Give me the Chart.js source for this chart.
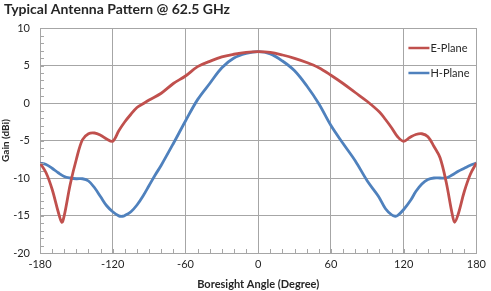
<!DOCTYPE html>
<html>
<head>
<meta charset="utf-8">
<script src="https://cdn.jsdelivr.net/npm/chart.js@4.4.1/dist/chart.umd.min.js"></script>
<style>
  html, body { margin: 0; padding: 0; background: #ffffff; }
  #wrap { width: 491px; height: 291px; position: relative; }
</style>
</head>
<body>
<div id="wrap"><canvas id="c" width="491" height="291"></canvas></div>
<script>
// ---- Data ----
const chartTitle = "Typical Antenna Pattern @ 62.5 GHz";
const xTitle = "Boresight Angle (Degree)";
const yTitle = "Gain (dBi)";
const seriesNames = ["E-Plane", "H-Plane"];

const ePlaneAngles = [-180,-175,-170,-165,-162,-160,-155,-150,-145,-140,-135,-130,-125,-120,-115,-110,-105,-100,-95,-90,-80,-70,-60,-50,-40,-30,-20,-10,0,
  10,20,30,40,50,60,70,80,90,100,105,110,115,120,125,130,135,140,145,150,155,160,162,165,170,175,180];
const ePlaneGain = [-8.0,-9.3,-11.5,-14.5,-15.9,-15.0,-10.8,-7.5,-4.9,-4.1,-4.0,-4.3,-4.8,-5.1,-3.7,-2.5,-1.5,-0.6,-0.1,0.4,1.3,2.6,3.6,4.85,5.55,6.15,6.5,6.75,6.85,
  6.75,6.4,5.95,5.4,4.7,3.7,2.6,1.4,0.2,-1.2,-2.2,-3.3,-4.5,-5.1,-4.6,-4.2,-4.1,-4.5,-5.8,-7.3,-10.5,-14.8,-15.9,-14.8,-11.8,-9.5,-8.0];

const hPlaneAngles = [-180,-175,-170,-165,-160,-155,-150,-145,-140,-135,-130,-125,-120,-115,-112,-110,-105,-100,-95,-90,-85,-80,-70,-60,-50,-40,-30,-20,-10,0,
  10,20,30,40,50,60,70,80,90,99,105,110,113,115,120,126,130,135,140,145,150,155,160,165,170,175,180];
const hPlaneGain = [-8.0,-8.2,-8.7,-9.3,-9.8,-10.0,-10.1,-10.1,-10.4,-11.3,-12.5,-13.7,-14.5,-15.05,-15.1,-15.0,-14.5,-13.6,-12.4,-11.0,-9.6,-8.3,-5.4,-2.4,0.45,2.6,4.7,6.0,6.6,6.85,
  6.55,5.6,4.3,2.3,-0.1,-3.0,-5.4,-7.7,-10.4,-12.4,-14.1,-14.9,-15.1,-15.0,-14.2,-12.9,-11.8,-10.8,-10.2,-10.0,-10.0,-10.0,-9.6,-9.1,-8.7,-8.3,-8.0];

const xTicks = [-180,-120,-60,0,60,120,180];
const yTicks = [-20,-15,-10,-5,0,5,10];

const colors = ["#c0504d", "#4f81bd"];
const FONT = "Lato, 'Open Sans', sans-serif";

function toPoints(xs, ys) { return xs.map((x, i) => ({ x: x, y: ys[i] })); }

// minor ticks + legend inside plot + title
const extras = {
  id: 'extras',
  afterDraw(chart) {
    const ctx = chart.ctx;
    const xs = chart.scales.x, ys = chart.scales.y;
    const ca = chart.chartArea;
    ctx.save();
    ctx.strokeStyle = "#a6a6a6";
    ctx.lineWidth = 1;
    ctx.beginPath();
    for (let v = -20; v <= 10; v += 1) {
      const py = Math.round(ys.getPixelForValue(v)) + 0.5;
      ctx.moveTo(ca.left, py); ctx.lineTo(ca.left + 4, py);
    }
    for (let v = -180; v <= 180; v += 10) {
      const px = Math.round(xs.getPixelForValue(v)) + 0.5;
      ctx.moveTo(px, ca.bottom); ctx.lineTo(px, ca.bottom - 4);
    }
    ctx.stroke();

    // legend
    ctx.font = "11px " + FONT;
    ctx.textBaseline = "middle";
    ctx.textAlign = "left";
    const lx = ca.right - 68;
    const legendY = [ys.getPixelForValue(7.3), ys.getPixelForValue(4.0)];
    chart.data.datasets.forEach((ds, i) => {
      const y = Math.round(legendY[i]);
      ctx.strokeStyle = ds.borderColor;
      ctx.lineWidth = 2.5;
      ctx.beginPath(); ctx.moveTo(lx, y); ctx.lineTo(lx + 21, y); ctx.stroke();
      ctx.fillStyle = "#262626";
      ctx.fillText(ds.label, lx + 22, y);
    });

    // title
    ctx.font = "bold 14px " + FONT;
    ctx.fillStyle = "#262626";
    ctx.textBaseline = "top";
    ctx.fillText(chartTitle, 4, 2);
    ctx.restore();
  }
};

new Chart(document.getElementById('c'), {
  type: 'line',
  data: {
    datasets: [
      { label: seriesNames[0], data: toPoints(ePlaneAngles, ePlaneGain), borderColor: colors[0], backgroundColor: colors[0],
        borderWidth: 2.8, pointRadius: 0, tension: 0.35, fill: false },
      { label: seriesNames[1], data: toPoints(hPlaneAngles, hPlaneGain), borderColor: colors[1], backgroundColor: colors[1],
        borderWidth: 2.8, pointRadius: 0, tension: 0.35, fill: false }
    ]
  },
  options: {
    responsive: false,
    animation: false,
    devicePixelRatio: 1,
    layout: { padding: { left: 0, right: 11, top: 28, bottom: 0 } },
    plugins: {
      legend: { display: false },
      title: { display: false },
      tooltip: { enabled: false }
    },
    scales: {
      x: {
        type: 'linear', min: -180, max: 180,
        afterBuildTicks: (s) => { s.ticks = xTicks.map(v => ({ value: v })); },
        grid: { color: "#a6a6a6", lineWidth: 1, drawTicks: false },
        border: { color: "#a6a6a6" },
        ticks: { font: { family: FONT, size: 11 }, color: "#262626", padding: 5, maxRotation: 0 },
        title: { display: true, text: xTitle, font: { family: FONT, size: 11, weight: 'bold' }, color: "#262626", padding: { top: 0, bottom: 0 } },
        afterFit: (s) => { s.height = 38; }
      },
      y: {
        type: 'linear', min: -20, max: 10,
        afterBuildTicks: (s) => { s.ticks = yTicks.map(v => ({ value: v })); },
        grid: { color: "#a6a6a6", lineWidth: 1, drawTicks: false },
        border: { color: "#a6a6a6" },
        ticks: { font: { family: FONT, size: 11 }, color: "#262626", padding: 10 },
        title: { display: true, text: yTitle, font: { family: FONT, size: 10, weight: 'bold' }, color: "#262626", padding: { top: 0, bottom: 0 } },
        afterFit: (s) => { s.width = 40; }
      }
    }
  },
  plugins: [extras]
});
</script>
</body>
</html>
